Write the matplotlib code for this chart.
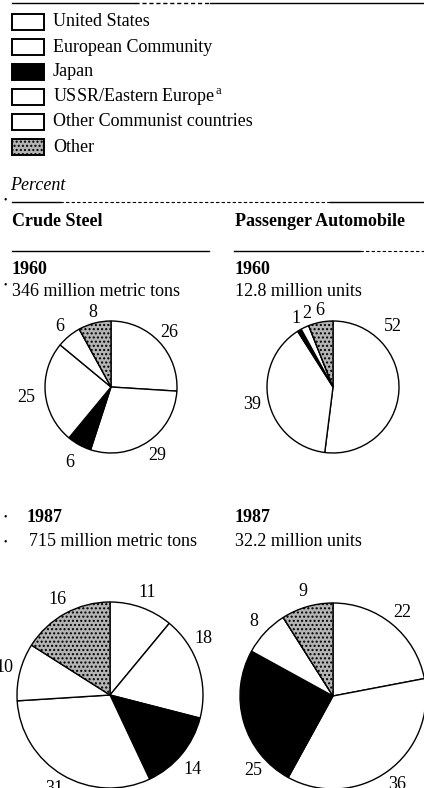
import matplotlib.pyplot as plt
import numpy as np
from matplotlib.lines import Line2D
from matplotlib.patches import Rectangle

# Regions (clockwise from 12 o'clock)
regions = ["United States", "European Community", "Japan",
           "USSR/Eastern Europe", "Other Communist countries", "Other"]
legend_labels = ["United States", "European Community", "Japan",
                 "USSR/Eastern Europe$^{\\,\\mathregular{a}}$",
                 "Other Communist countries", "Other"]
face_colors = ["white", "white", "black", "white", "white", "#b4b4b4"]

# Percent shares
steel_1960 = [26, 29, 6, 25, 6, 8]
steel_1987 = [11, 18, 14, 31, 10, 16]
auto_1960 = [52, 39, 1, 2, 0, 6]
auto_1987 = [22, 36, 25, 8, 0, 9]

W, H = 424, 788
FONT = "Liberation Serif"
FS = 13

fig = plt.figure(figsize=(W / 100, H / 100), dpi=100)
fig.patch.set_facecolor("white")


def fx(x):
    return x / W


def fy(y):
    return 1 - y / H


def text(x, y, s, **kw):
    fig.text(fx(x), fy(y), s, family=FONT, fontsize=kw.pop("fontsize", FS),
             va="center", ha=kw.pop("ha", "left"), **kw)


def hline(x0, x1, y, **kw):
    fig.add_artist(Line2D([fx(x0), fx(x1)], [fy(y), fy(y)], color="black",
                          lw=kw.pop("lw", 1.0), **kw))


def draw_pie(cx, cy, r, values, ldist, moves=None):
    ax = fig.add_axes([fx(cx - r * 1.6), fy(cy + r * 1.6),
                       r * 3.2 / W, r * 3.2 / H])
    labels = [str(v) if v > 0 else "" for v in values]
    wedges, texts = ax.pie(values, labels=labels, colors=face_colors,
                           startangle=90, counterclock=False,
                           labeldistance=ldist,
                           wedgeprops=dict(edgecolor="black", linewidth=1.0),
                           textprops=dict(family=FONT, fontsize=FS))
    wedges[5].set_hatch("....")
    # hand-placed labels: index -> (clockwise angle from top, distance)
    for i, (ang, d) in (moves or {}).items():
        a = np.radians(ang)
        texts[i].set_position((d * np.sin(a), d * np.cos(a)))
    for t in texts:
        t.set_ha("center")
        t.set_va("center")
    ax.set_xlim(-1.6, 1.6)
    ax.set_ylim(-1.6, 1.6)
    ax.set_aspect("equal")
    ax.axis("off")
    return ax


# top rule
hline(12, 135, 2.5)
hline(135, 210, 2.5, ls=(0, (3, 2)))
hline(210, 424, 2.5)

# legend
for i, lab in enumerate(legend_labels):
    y = 22 + i * 25
    box = Rectangle((fx(12), fy(y + 8)), 32 / W, 16 / H,
                    transform=fig.transFigure, facecolor=face_colors[i],
                    edgecolor="black", lw=1.4)
    if i == 5:
        box.set_hatch("....")
    fig.add_artist(box)
    text(53, y, lab)

text(10, 185, "Percent", style="italic")
hline(12, 60, 202)
hline(60, 330, 202, ls=(0, (3, 2)), lw=0.8)
hline(330, 424, 202)

# column headers
text(12, 222, "Crude Steel", weight="bold")
text(235, 222, "Passenger Automobile", weight="bold")
hline(12, 209, 251)
hline(234, 360, 251)
hline(360, 424, 251, ls=(0, (3, 2)), lw=0.8)

text(12, 270, "1960", weight="bold")
text(12, 292, "346 million metric tons")
text(235, 270, "1960", weight="bold")
text(235, 292, "12.8 million units")

text(27, 517, "1987", weight="bold")
text(29, 542, "715 million metric tons")
text(235, 517, "1987", weight="bold")
text(235, 542, "32.2 million units")

for by in [200, 285, 517, 542]:
    text(3, by, "•", fontsize=7)

draw_pie(111, 387, 66, steel_1960, 1.25,
         moves={0: (47, 1.2), 2: (209, 1.3), 3: (263, 1.3),
                4: (320, 1.2), 5: (346, 1.17)})
draw_pie(333, 387, 66, auto_1960, 1.25,
         moves={0: (45, 1.29), 2: (332, 1.18), 3: (340, 1.18),
                5: (350, 1.17)})
draw_pie(110, 695, 93, steel_1987, 1.17,
         moves={1: (59, 1.17), 2: (132, 1.2)})
draw_pie(333, 696, 93, auto_1987, 1.17, moves={2: (227, 1.17)})

plt.savefig("out.png", dpi=100, facecolor="white")
